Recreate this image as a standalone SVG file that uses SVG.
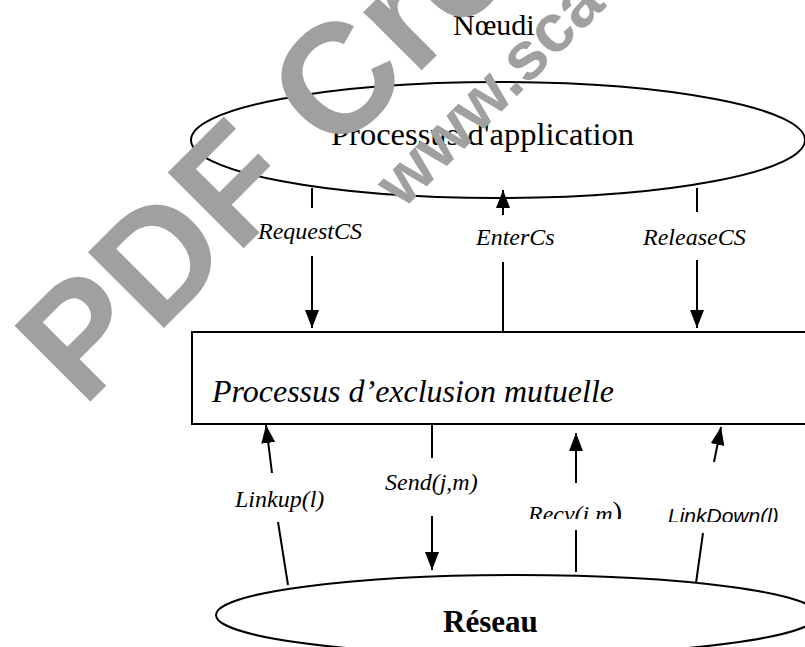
<svg xmlns="http://www.w3.org/2000/svg" width="805" height="647" viewBox="0 0 805 647">
  <defs>
    <marker id="head" viewBox="0 0 18 14" refX="18" refY="7" markerWidth="18" markerHeight="14" markerUnits="userSpaceOnUse" orient="auto">
      <path d="M0,0 L18,7 L0,14 Z" fill="#000"/>
    </marker>
    <clipPath id="cut-recv"><rect x="500" y="480" width="140" height="39"/></clipPath>
    <clipPath id="cut-down"><rect x="640" y="480" width="165" height="42"/></clipPath>
    <style>
      .shape { fill: #fff; stroke: #000; stroke-width: 2; }
      .link { stroke: #000; stroke-width: 2; fill: none; }
      .serif { font-family: "Liberation Serif", "Times New Roman", serif; fill: #000; }
      .lbl { font-family: "Liberation Serif", "Times New Roman", serif; font-style: italic; font-size: 24px; fill: #000; }
      .sans { font-family: "Liberation Sans", Arial, sans-serif; }
      .mark { font-family: "Liberation Sans", Arial, sans-serif; font-weight: bold; fill: #a0a0a0; }
    </style>
  </defs>

  <rect width="805" height="647" fill="#fff"/>

  <text class="serif" x="453" y="35" font-size="30">Nœudi</text>

  <g id="application">
    <ellipse class="shape" cx="498" cy="140" rx="307" ry="58"/>
    <text class="serif" x="331" y="145" font-size="32.5" textLength="303" lengthAdjust="spacingAndGlyphs">Processus d'application</text>
  </g>

  <g id="exclusion">
    <rect class="shape" x="192" y="332" width="630" height="92"/>
    <text class="serif" x="212" y="402" font-size="32" font-style="italic" textLength="402" lengthAdjust="spacingAndGlyphs">Processus d’exclusion mutuelle</text>
  </g>

  <g id="reseau">
    <ellipse class="shape" cx="517" cy="615" rx="301" ry="40"/>
    <text class="serif" x="443" y="632" font-size="31" font-weight="bold">Réseau</text>
  </g>

  <g id="connectors">
    <!-- application -> exclusion -->
    <line class="link" x1="312" y1="188" x2="312" y2="208"/>
    <line class="link" x1="312" y1="256" x2="312" y2="328" marker-end="url(#head)"/>
    <line class="link" x1="503" y1="332" x2="503" y2="262"/>
    <line class="link" x1="503" y1="215" x2="503" y2="190" marker-end="url(#head)"/>
    <line class="link" x1="697" y1="188" x2="697" y2="212"/>
    <line class="link" x1="697" y1="260" x2="697" y2="328" marker-end="url(#head)"/>

    <!-- exclusion <-> reseau -->
    <line class="link" x1="288" y1="585" x2="278" y2="522"/>
    <line class="link" x1="272" y1="473" x2="266" y2="425" marker-end="url(#head)"/>
    <line class="link" x1="432" y1="424" x2="432" y2="458"/>
    <line class="link" x1="432" y1="516" x2="432" y2="570" marker-end="url(#head)"/>
    <line class="link" x1="576" y1="572" x2="576" y2="530"/>
    <line class="link" x1="576" y1="483" x2="576" y2="433" marker-end="url(#head)"/>
    <line class="link" x1="696" y1="583" x2="703" y2="533"/>
    <line class="link" x1="714" y1="462" x2="721" y2="427" marker-end="url(#head)"/>

    <text class="lbl" x="258" y="239">RequestCS</text>
    <text class="lbl" x="476" y="245">EnterCs</text>
    <text class="lbl" x="643" y="245">ReleaseCS</text>
    <text class="lbl" x="235" y="507">Linkup(l)</text>
    <text class="lbl" x="385" y="490">Send(j,m)</text>
    <g clip-path="url(#cut-recv)">
      <text class="lbl" x="528" y="522">Recv(i,m<tspan font-style="normal" font-size="29">)</tspan></text>
    </g>
    <g clip-path="url(#cut-down)">
      <text class="sans" x="668" y="523" font-size="21" font-style="italic" fill="#000">LinkDown(l)</text>
    </g>
  </g>

  <!-- stamp lettering laid over the page -->
  <g id="stamp">
    <text class="mark" font-size="156" transform="translate(83,409) rotate(-45)">PDF Cre</text>
    <text class="mark" font-size="68" transform="translate(403,210) rotate(-45)">www.sca</text>
  </g>
</svg>
